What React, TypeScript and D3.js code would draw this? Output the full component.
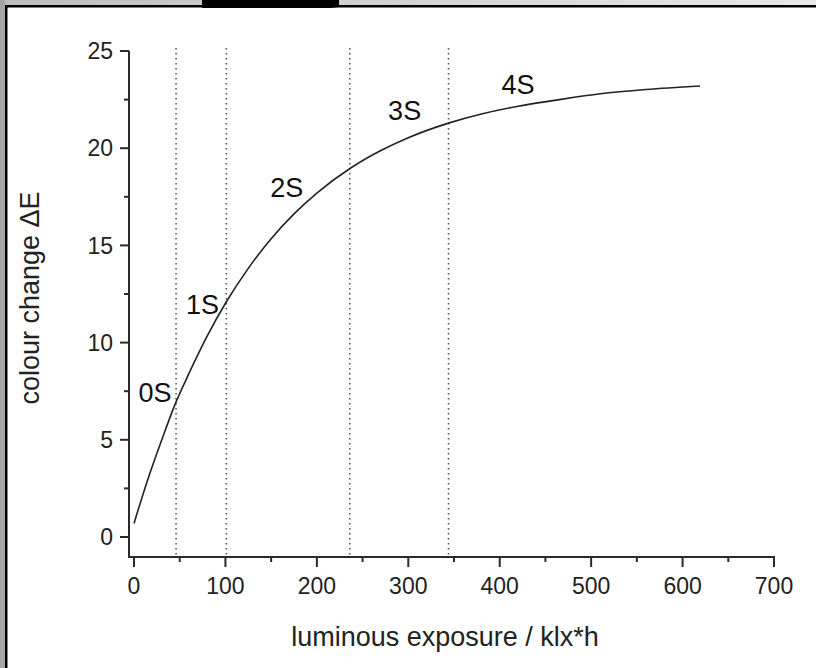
import React from "react";
import * as d3 from "d3";

const curveX = [0, 15, 30, 46, 60, 80, 101, 125, 150, 175, 200, 237, 270, 300, 344, 380, 420, 460, 510, 560, 619];
const curveY = [0.7, 2.95, 4.95, 6.95, 8.4, 10.33, 12.1, 13.82, 15.34, 16.62, 17.69, 18.98, 19.88, 20.54, 21.29, 21.76, 22.16, 22.46, 22.8, 23.02, 23.2];
const stageLines = [46, 101, 236, 344];
const stageLabels = ["0S", "1S", "2S", "3S", "4S"];
const stageLabelX = [23, 75, 167, 296, 420];
const stageLabelY = [7.45, 11.95, 18.0, 21.95, 23.3];
const xTicks = [0, 100, 200, 300, 400, 500, 600, 700];
const xMinor = [50, 150, 250, 350, 450, 550, 650];
const yTicks = [0, 5, 10, 15, 20, 25];
const yMinor = [2.5, 7.5, 12.5, 17.5, 22.5];
const xTitle = "luminous exposure / klx*h";
const yTitle = "colour change \u0394E";

const W = 816;
const H = 668;
const FONT = "'Liberation Sans', Arial, Helvetica, sans-serif";

export default function App() {
  const x = d3.scaleLinear().domain([0, 700]).range([134, 774]);
  const y = d3.scaleLinear().domain([0, 25]).range([537, 51]);
  const axisX = 129;
  const axisY = 557;
  const data = curveX.map((v, i) => [v, curveY[i]] as [number, number]);
  const line = d3
    .line<[number, number]>()
    .x((d) => x(d[0]))
    .y((d) => y(d[1]))
    .curve(d3.curveMonotoneX);
  const axisColor = "#2a2a2a";
  return (
    <svg
      width={W}
      height={H}
      style={{ position: "absolute", left: 0, top: 0, background: "#fff" }}
    >
      <defs>
        <linearGradient id="topband" x1="0" x2="1" y1="0" y2="0">
          <stop offset="0" stopColor="#bdbdbd" />
          <stop offset="1" stopColor="#e8e8e8" />
        </linearGradient>
      </defs>
      <rect x={0} y={0} width={W} height={H} fill="#fff" />
      <rect x={0} y={0} width={W} height={5} fill="url(#topband)" />
      <rect x={0} y={0} width={5} height={H} fill="#a6a6a6" />
      <rect x={5} y={5} width={W - 5} height={2.5} fill="#000" />
      <rect x={5} y={5} width={2.5} height={H - 5} fill="#000" />
      <path d="M202,0 L339,0 L339,7 L330,8 L202,8 Z" fill="#000" />

      {stageLines.map((v) => (
        <line
          key={"s" + v}
          x1={x(v)}
          x2={x(v)}
          y1={y(25) - 3}
          y2={axisY - 1}
          stroke="#555"
          strokeWidth={1.6}
          strokeDasharray="1.6,3.4"
        />
      ))}

      <path d={line(data) || ""} fill="none" stroke="#222" strokeWidth={1.6} />

      <line x1={axisX} x2={axisX} y1={y(25)} y2={axisY + 1} stroke={axisColor} strokeWidth={2} />
      <line x1={axisX - 1} x2={x(700) + 1} y1={axisY} y2={axisY} stroke={axisColor} strokeWidth={2} />

      {yTicks.map((v) => (
        <g key={"yt" + v}>
          <line x1={axisX - 9} x2={axisX} y1={y(v)} y2={y(v)} stroke={axisColor} strokeWidth={2} />
          <text
            x={axisX - 16}
            y={y(v)}
            dy="0.36em"
            textAnchor="end"
            fontFamily={FONT}
            fontSize={23}
            fill="#222"
          >
            {v}
          </text>
        </g>
      ))}
      {yMinor.map((v) => (
        <line key={"ym" + v} x1={axisX - 5} x2={axisX} y1={y(v)} y2={y(v)} stroke={axisColor} strokeWidth={2} />
      ))}
      {xTicks.map((v) => (
        <g key={"xt" + v}>
          <line x1={x(v)} x2={x(v)} y1={axisY} y2={axisY + 10} stroke={axisColor} strokeWidth={2} />
          <text
            x={x(v)}
            y={594}
            textAnchor="middle"
            fontFamily={FONT}
            fontSize={23}
            fill="#222"
          >
            {v}
          </text>
        </g>
      ))}
      {xMinor.map((v) => (
        <line key={"xm" + v} x1={x(v)} x2={x(v)} y1={axisY} y2={axisY + 5} stroke={axisColor} strokeWidth={2} />
      ))}

      {stageLabels.map((s, i) => (
        <text
          key={s}
          x={x(stageLabelX[i])}
          y={y(stageLabelY[i])}
          dy="0.36em"
          textAnchor="middle"
          fontFamily={FONT}
          fontSize={27}
          fill="#111"
        >
          {s}
        </text>
      ))}

      <text
        x={445}
        y={646}
        textAnchor="middle"
        fontFamily={FONT}
        fontSize={27}
        fill="#222"
      >
        {xTitle}
      </text>
      <text
        transform={`translate(39, 298) rotate(-90)`}
        textAnchor="middle"
        fontFamily={FONT}
        fontSize={27}
        fill="#222"
      >
        {yTitle}
      </text>
    </svg>
  );
}
